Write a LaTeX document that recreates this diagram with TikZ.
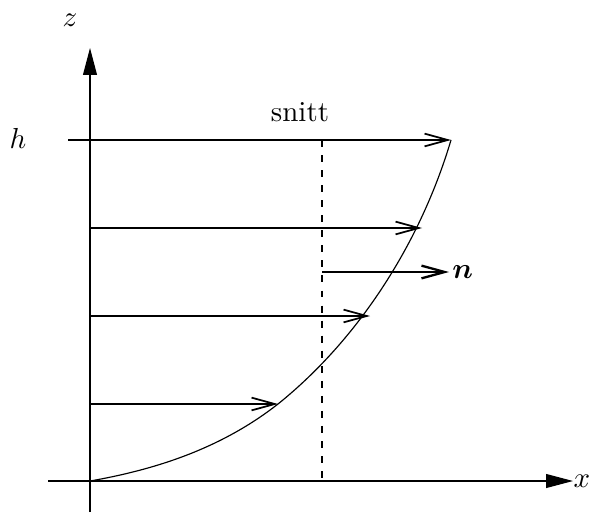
\documentclass[tikz,border=0pt]{standalone}
\usepackage{xcolor}
\usepackage{amsmath,amssymb,bm}
\usetikzlibrary{arrows.meta}

\begin{document}
\begin{tikzpicture}[x=0.3455pt,y=0.3455pt,
    axis/.style={-{Triangle[length=9.3pt,width=4.8pt]}, thin},
    flow/.style={-{Straight Barb[length=8pt,width=4.4pt,line width=0.6pt]}, thin}]
      % \draw[help lines, gray!50, very thin] (0,0) grid[step=50] (589,517);
      \useasboundingbox (0,0) rectangle (589,517);

      % axes
      \coordinate (O) at (90,36);
      \coordinate (zbot) at (90,5);
      \coordinate (ztop) at (90,469);
      \coordinate (xleft) at (48,36);
      \coordinate (xright) at (573,36);
      \draw[axis] (zbot) -- (ztop);
      \draw[axis] (xleft) -- (xright);
      \node (zlab) at (70,497) {$z$};
      \node (xlab) at (582,36) {$x$};
      \node (hlab) at (18,379) {$h$};

      % velocity profile
      \coordinate (p1) at (278,113);
      \coordinate (p2) at (370,201);
      \coordinate (p3) at (422,289);
      \coordinate (p4) at (451,377);
      \draw[thin] (O) .. controls (159,48) and (223,70) .. (p1)
                      .. controls (360,179) and (421,276) .. (p4);

      \coordinate (a1) at (90,113);
      \coordinate (a2) at (90,201);
      \coordinate (a3) at (90,289);
      \coordinate (a4) at (68,377);
      \draw[flow] (a1) -- (p1);
      \draw[flow] (a2) -- (p2);
      \draw[flow] (a3) -- (p3);
      \draw[flow] (a4) -- (p4);

      % section
      \coordinate (stop) at (322,377);
      \coordinate (sbot) at (322,36);
      \draw[thin, dash pattern=on 2.4pt off 2.8pt] (stop) -- (sbot);
      \node (snitt) at (300,405) {snitt};

      \coordinate (nstart) at (322,245);
      \node[anchor=west, inner sep=1pt] (nlab) at (449,245) {$\bm{n}$};
      \draw[-{Straight Barb[length=8pt,width=4.4pt]}, thick] (nstart) -- (nlab.west);
\end{tikzpicture}
\end{document}
